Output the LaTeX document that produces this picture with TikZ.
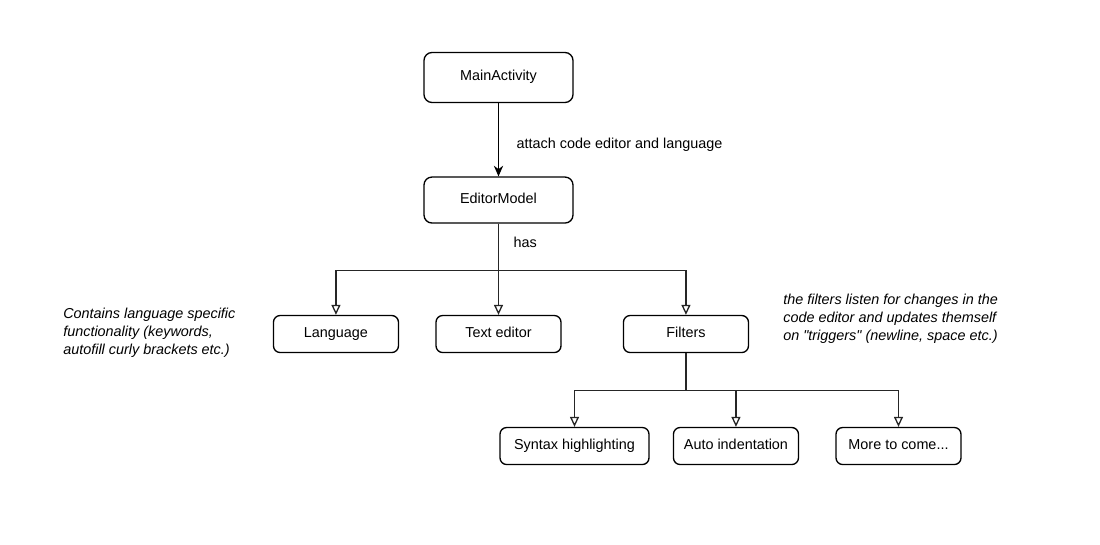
\documentclass[tikz,border=0pt]{standalone}
\usepackage{fontspec}
\setmainfont{Liberation Sans}
\usetikzlibrary{positioning,arrows.meta}
\tikzset{
    node distance=2cm, % overridden per node below
    }

\begin{document}
\begin{tikzpicture}[
x=0.75pt, y=-0.75pt,
every node/.style={font=\fontsize{10.8}{13.5}\selectfont},
bigbox/.style={rectangle, rounded corners=6pt, draw=black, line width=1pt, minimum width=111.75pt, minimum height=37.5pt, text height=7.7pt, text depth=2.8pt},
smallbox/.style={rectangle, rounded corners=5pt, draw=black, line width=1pt, minimum width=93.75pt, minimum height=27.75pt, text height=7.7pt, text depth=2.8pt},
link/.style={line width=1pt, draw=black!85, -{Triangle[open, length=7.5pt, width=6.75pt]}},
note/.style={font=\fontsize{10.8}{13.5}\selectfont\itshape, align=left, anchor=west},
]
\useasboundingbox (0,0) rectangle (1100,545);

\node[bigbox] (main) at (498.5,77.5) {MainActivity};
\node[bigbox, minimum height=34.5pt] (editor) [below of=main, node distance=91.9pt] {EditorModel};
\node[smallbox] (text) [below of=editor, node distance=100.5pt] {Text editor};
\node[smallbox] (lang) [left of=text, node distance=121.9pt] {Language};
\node[smallbox] (filters) [right of=text, node distance=140.6pt] {Filters};
\node[smallbox, minimum width=111.75pt] (syntax) [below of=text, node distance=84pt, xshift=57pt] {Syntax highlighting};
\node[smallbox] (auto) [right of=syntax, node distance=121.1pt] {Auto indentation};
\node[smallbox] (more) [right of=auto, node distance=121.9pt] {More to come...};

\node[note] (langnote) at (58.6,333) {Contains language specific\\functionality (keywords,\\autofill curly brackets etc.)};
\node[note] (filternote) at (778.6,319) {the filters listen for changes in the\\code editor and updates themself\\on \textquotedbl triggers\textquotedbl{} (newline, space etc.)};

\draw[line width=1pt, -{Stealth[length=8pt, width=7pt]}] (main) -- (editor)
    node[pos=0.57, anchor=west, xshift=9.8pt] {attach code editor and language};

\draw[link] (editor.south) -- ++(0,47) node[pos=0.4, anchor=west, xshift=7.5pt] {has} -| (lang.north);
\draw[link] (editor.south) -- ++(0,47) -| (text.north);
\draw[link] (editor.south) -- ++(0,47) -| (filters.north);

\draw[link] (filters.south) -- ++(0,37) -| (syntax.north);
\draw[link] (filters.south) -- ++(0,37) -| (auto.north);
\draw[link] (filters.south) -- ++(0,37) -| (more.north);
\end{tikzpicture}
\end{document}
